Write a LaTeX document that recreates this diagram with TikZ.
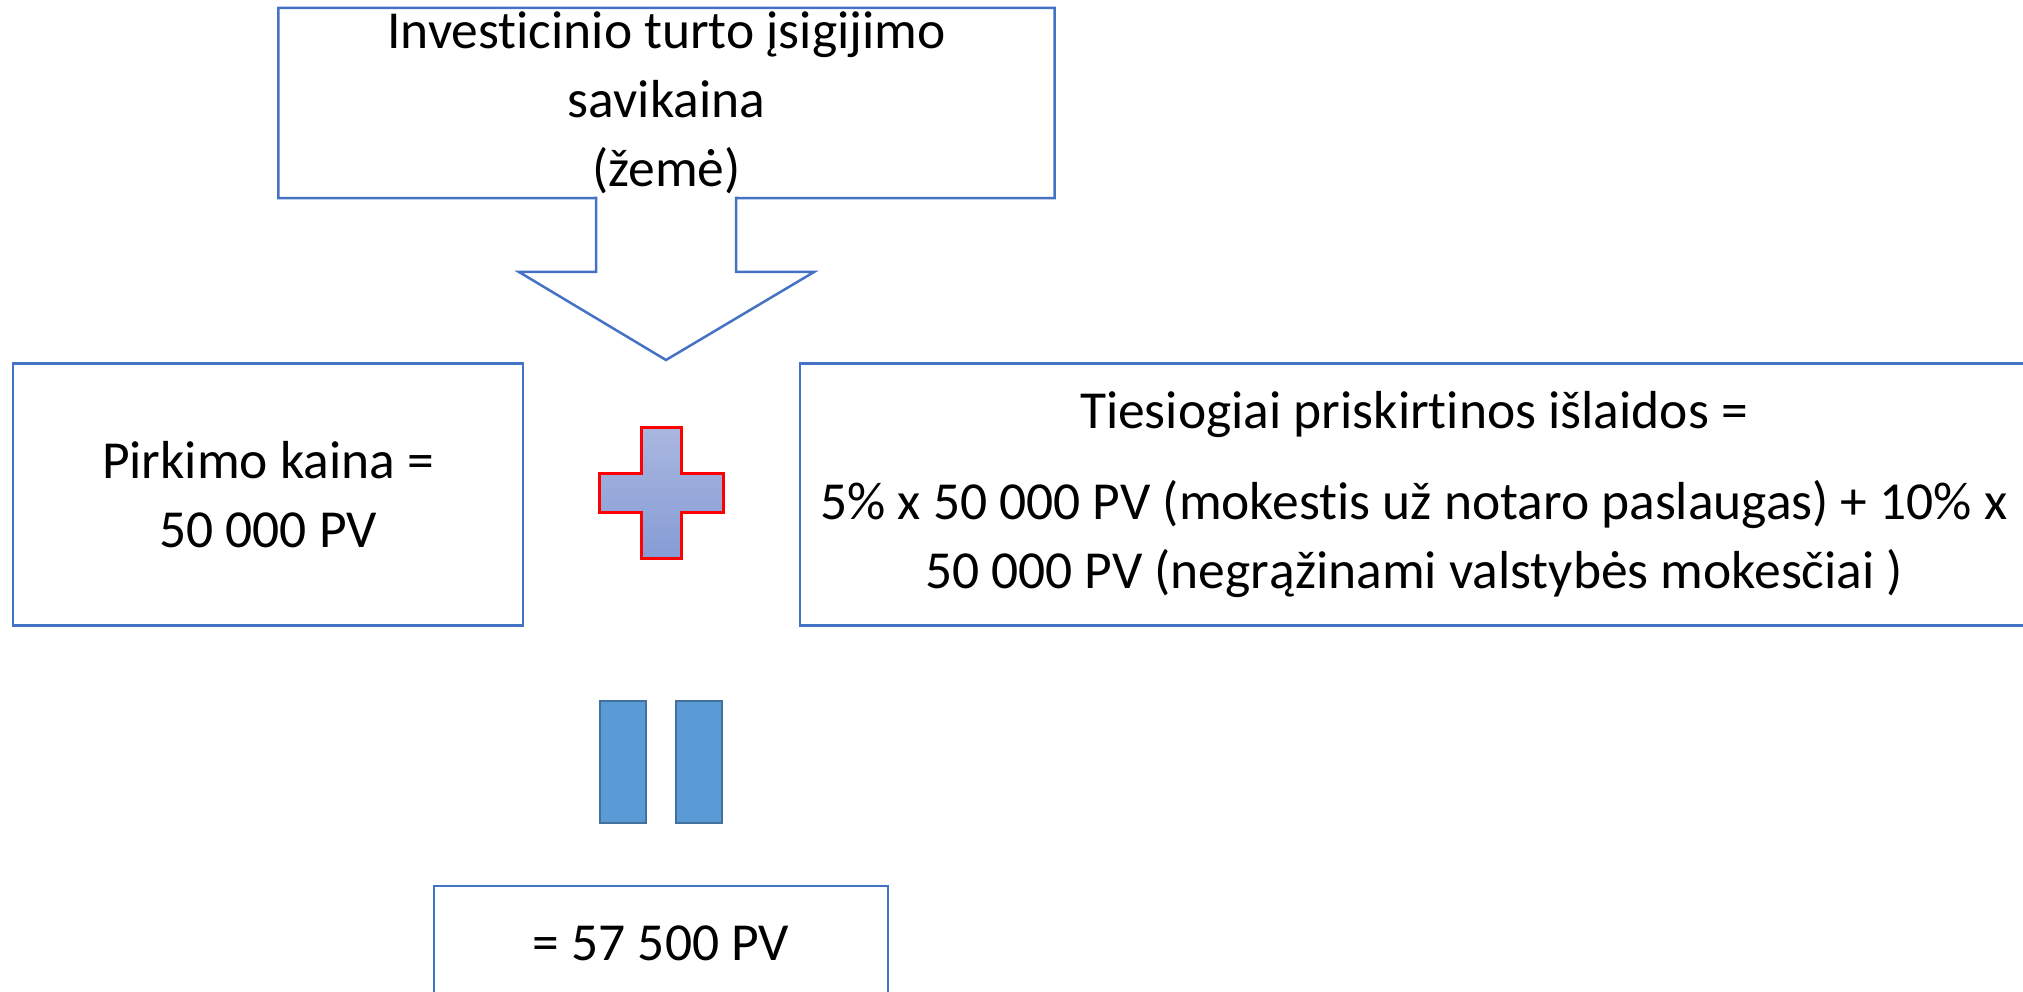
\documentclass[tikz,border=0pt]{standalone}
\usepackage{fontspec}
\setmainfont{Carlito}[Ligatures=NoCommon]
\usepackage{xcolor}
\definecolor{boxblue}{HTML}{4472C4}
\definecolor{plustop}{HTML}{AAB7DF}
\definecolor{plusbot}{HTML}{869CD5}
\definecolor{barfill}{HTML}{5B9BD5}
\definecolor{bardraw}{HTML}{41719C}

\begin{document}
\begin{tikzpicture}[x=1pt,y=-1pt,
    boxline/.style={draw=boxblue,line width=2.5pt},
    txtbox/.style={inner sep=0pt,align=center,font={\fontsize{53.5}{69}\selectfont}},
    plussign/.style={draw=red,line width=3pt,top color=plustop,bottom color=plusbot},
    eqbar/.style={draw=bardraw,line width=2.5pt,fill=barfill}]
        \useasboundingbox (0,0) rectangle (2023,992);
        % callout with arrow
        \node[txtbox,minimum width=776pt,minimum height=190pt] (cost) at (666.5,103)
            {Investicinio turto įsigijimo\\savikaina\\(žemė)};
        \coordinate (tip) at (666,360);
        \draw[boxline,line join=miter] (cost.north west) -- (cost.north east) -- (cost.south east)
            -- (736,198) -- (736,272) -- (814,272) -- (tip) -- (519,272) -- (596,272)
            -- (596,198) -- (cost.south west) -- cycle;
        % boxes
        \node[txtbox,boxline,minimum width=510pt,minimum height=262pt] (price) at (268,494.5)
            {Pirkimo kaina =\\50 000 PV};
        \node[txtbox,boxline,minimum width=1228pt,minimum height=262pt] (costs) at (1414,494.5)
            {Tiesiogiai priskirtinos išlaidos =\\[22pt]
             5\% x 50 000 PV (mokestis už notaro paslaugas) + 10\% x\\
             50 000 PV (negrąžinami valstybės mokesčiai )};
        \node[txtbox,boxline,minimum width=454pt,minimum height=114pt] (total) at (661,943)
            {= 57 500 PV};
        % plus
        \coordinate (plus) at (661,492.5);
        \draw[plussign] (641,427) -- (681,427) -- (681,473) -- (723,473) -- (723,512)
            -- (681,512) -- (681,558) -- (641,558) -- (641,512) -- (599,512)
            -- (599,473) -- (641,473) -- cycle;
        % equals
        \draw[eqbar] (600,701) rectangle (646,823);
        \draw[eqbar] (676,701) rectangle (722,823);
\end{tikzpicture}
\end{document}
